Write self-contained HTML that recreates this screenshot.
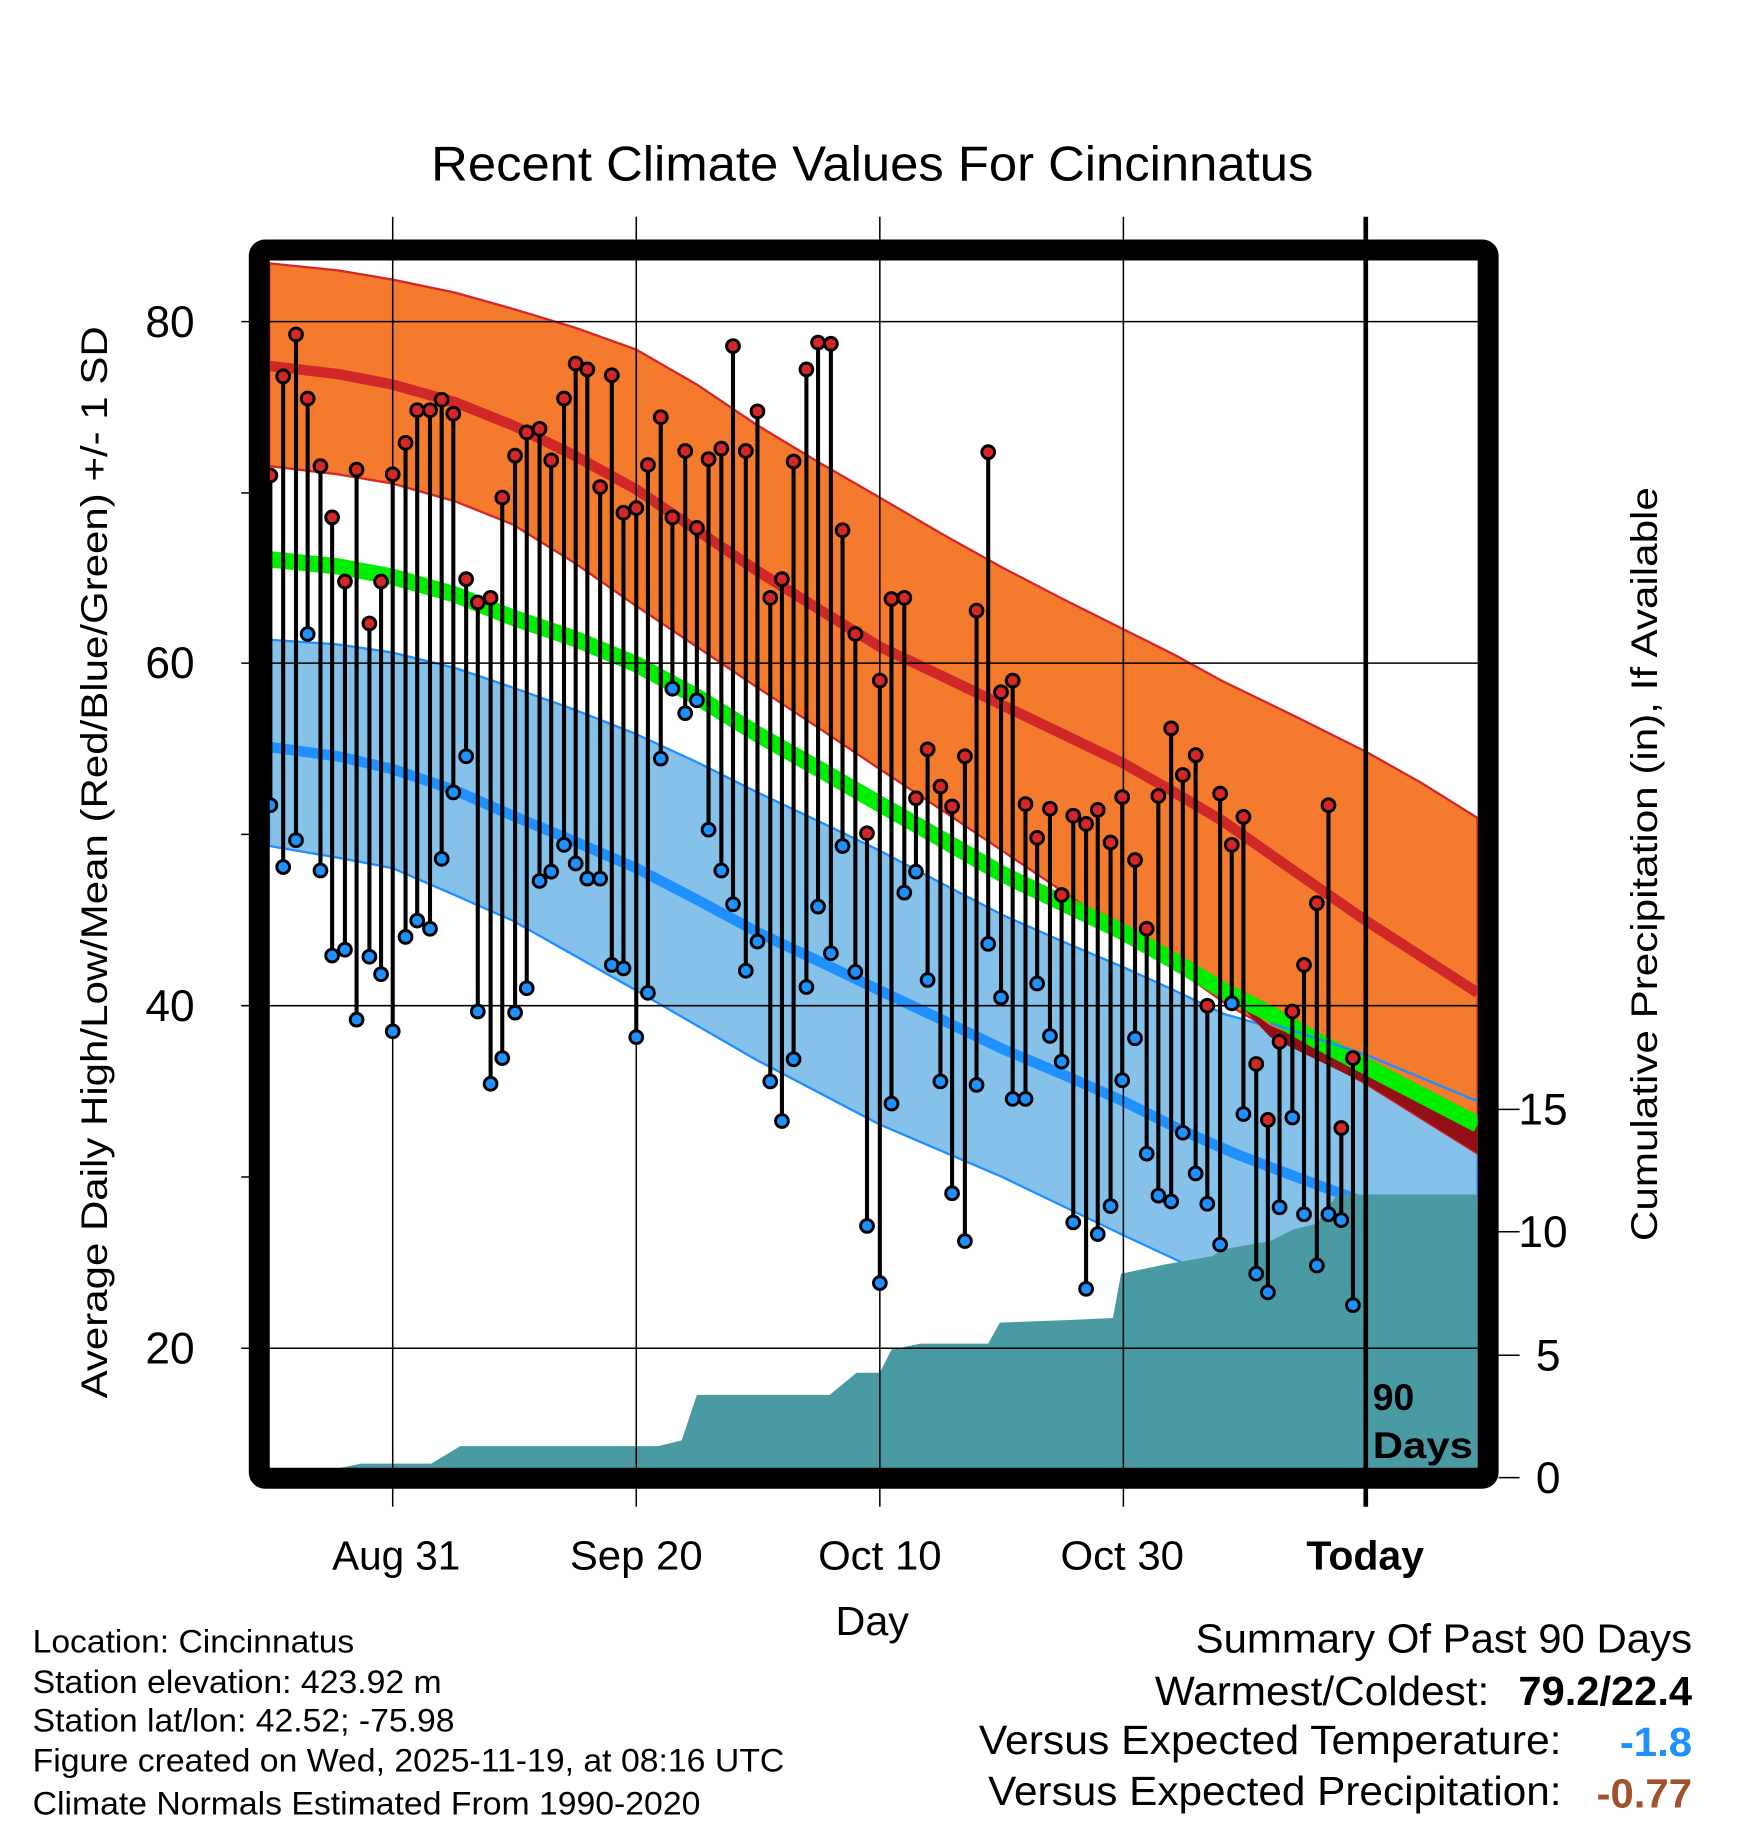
<!DOCTYPE html>
<html><head><meta charset="utf-8"><style>
html,body{margin:0;padding:0;background:#fff}
svg{display:block}
text{font-family:"Liberation Sans",Arial,sans-serif}
</style></head><body>
<svg width="1748" height="1828" viewBox="0 0 1500 1568.65" xmlns="http://www.w3.org/2000/svg">
<defs><clipPath id="c"><rect x="231" y="224" width="1037" height="1036"/></clipPath></defs>
<g clip-path="url(#c)" stroke-linejoin="round">
<path d="M231 549 L290 553 L337 560 L390 573 L440 590 L493 609 L546 630 L598 654 L650 680 L703 705 L755 730 L808 758 L860 785 L912 808 L964 830 L1008 850 L1050 870 L1110 887 L1172 905 L1220 925 L1268 945 L1268 1160 L1172 1125 L1050 1100 L964 1060 L860 1010 L755 965 L650 910 L546 850 L493 820 L440 790 L390 768 L337 745 L290 736 L231 726 Z" fill="#85c1e9" stroke="#1e90ff" stroke-width="2"/>
<path d="M231 226 L290 232 L337 240 L390 251 L440 265 L493 281 L546 300 L598 330 L650 365 L703 397 L755 427 L808 458 L860 487 L912 514 L964 540 L1008 562 L1050 585 L1110 614 L1172 645 L1220 672 L1268 702 L1268 990 L1220 960 L1172 930 L1110 895 L1050 860 L1008 830 L964 800 L912 765 L860 730 L808 695 L755 660 L703 625 L650 590 L598 555 L546 520 L493 483 L440 450 L390 430 L337 415 L290 407 L231 400 Z" fill="#f47a2e" stroke="#d62728" stroke-width="2"/>
<path d="M1060 858 L1090 880 L1172 915 L1268 965 L1268 990 L1172 930 L1090 890 Z" fill="#931116"/>
<polyline points="231,480 290,486 337,495 390,510 440,530 493,548 546,570 598,598 650,630 703,660 755,690 808,720 860,750 912,775 964,800 1008,825 1050,850 1090,870 1130,893 1172,915 1220,940 1268,965" fill="none" stroke="#00ee00" stroke-width="14"/>
<polyline points="1090,878 1172,905 1268,945" fill="none" stroke="#1e90ff" stroke-width="2"/>
<polyline points="231,641 290,649 337,660 390,678 440,700 493,722 546,745 598,772 650,800 703,825 755,850 808,875 860,900 912,922 964,945 1010,968 1060,990 1115,1011 1172,1032" fill="none" stroke="#1e90ff" stroke-width="9"/>
<polyline points="231,314 290,321 337,330 390,345 440,365 493,391 546,420 598,455 650,490 703,523 755,555 808,580 860,605 912,630 964,655 1008,680 1050,705 1110,747 1172,790 1220,821 1268,852" fill="none" stroke="#d02828" stroke-width="9"/>
<path d="M231 1262 L290 1260 L310 1256 L370 1256 L385 1247 L395 1241 L565 1241 L585 1236 L598 1197 L712 1197 L735 1178 L755 1178 L765 1158 L790 1153 L848 1153 L858 1135 L910 1133 L955 1131 L962 1093 L1000 1085 L1040 1078 L1050 1072 L1090 1065 L1110 1055 L1130 1050 L1140 1035 L1148 1025 L1268 1025 L1268 1262 Z" fill="#4a9aa3"/>
</g>
<g stroke="#000" stroke-width="1.3">
<line x1="207" y1="276" x2="1268" y2="276"/><line x1="207" y1="569" x2="1268" y2="569"/>
<line x1="207" y1="863" x2="1268" y2="863"/><line x1="207" y1="1157" x2="1268" y2="1157"/>
<line x1="207" y1="423" x2="218" y2="423"/><line x1="207" y1="716" x2="218" y2="716"/><line x1="207" y1="1010" x2="218" y2="1010"/>
<line x1="337" y1="186" x2="337" y2="1293"/><line x1="546" y1="186" x2="546" y2="1293"/>
<line x1="755" y1="186" x2="755" y2="1293"/><line x1="964" y1="186" x2="964" y2="1293"/>
<line x1="1286" y1="952" x2="1304" y2="952"/><line x1="1286" y1="1057" x2="1304" y2="1057"/>
<line x1="1286" y1="1163" x2="1304" y2="1163"/><line x1="1286" y1="1268" x2="1304" y2="1268"/>
</g>
<path stroke="#000" stroke-width="3.5" fill="none" d="M232 408V691M243 323V744M254 287V721M264 342V544M275 400V747M285 444V820M296 499V815M306 403V875M317 535V821M327 499V836M337 407V885M348 380V804M358 352V790M369 352V797M379 343V737M389 355V680M400 497V649M410 517V868M421 513V930M431 427V908M442 391V869M452 371V848M463 368V756M473 395V748M484 342V725M494 312V741M504 317V754M515 418V754M525 322V828M535 440V831M546 436V890M556 399V852M567 358V651M577 444V591M588 387V612M598 453V601M608 394V712M619 385V747M629 297V776M640 387V833M650 353V808M661 513V928M671 497V962M681 396V909M692 317V847M702 294V778M713 295V818M723 455V726M734 544V834M744 715V1052M755 584V1101M765 514V947M776 513V766M786 685V748M796 643V841M807 675V928M817 692V1024M828 649V1065M838 524V931M848 388V810M859 594V856M869 584V943M880 690V943M890 719V844M901 694V889M911 768V911M921 700V1049M932 707V1106M942 695V1059M953 723V1035M963 684V927M974 738V891M984 797V990M994 683V1026M1005 625V1031M1015 665V972M1026 648V1007M1036 863V1033M1047 681V1068M1057 725V861M1067 701V956M1078 913V1093M1088 961V1109M1098 894V1036M1109 868V959M1119 828V1042M1130 775V1086M1140 691V1042M1151 968V1047M1161 908V1120"/>
<g stroke="#000" stroke-width="2.5" fill="#d62728">
<circle cx="232" cy="408" r="5.5"/><circle cx="243" cy="323" r="5.5"/><circle cx="254" cy="287" r="5.5"/><circle cx="264" cy="342" r="5.5"/><circle cx="275" cy="400" r="5.5"/><circle cx="285" cy="444" r="5.5"/><circle cx="296" cy="499" r="5.5"/><circle cx="306" cy="403" r="5.5"/><circle cx="317" cy="535" r="5.5"/><circle cx="327" cy="499" r="5.5"/><circle cx="337" cy="407" r="5.5"/><circle cx="348" cy="380" r="5.5"/><circle cx="358" cy="352" r="5.5"/><circle cx="369" cy="352" r="5.5"/><circle cx="379" cy="343" r="5.5"/><circle cx="389" cy="355" r="5.5"/><circle cx="400" cy="497" r="5.5"/><circle cx="410" cy="517" r="5.5"/><circle cx="421" cy="513" r="5.5"/><circle cx="431" cy="427" r="5.5"/><circle cx="442" cy="391" r="5.5"/><circle cx="452" cy="371" r="5.5"/><circle cx="463" cy="368" r="5.5"/><circle cx="473" cy="395" r="5.5"/><circle cx="484" cy="342" r="5.5"/><circle cx="494" cy="312" r="5.5"/><circle cx="504" cy="317" r="5.5"/><circle cx="515" cy="418" r="5.5"/><circle cx="525" cy="322" r="5.5"/><circle cx="535" cy="440" r="5.5"/><circle cx="546" cy="436" r="5.5"/><circle cx="556" cy="399" r="5.5"/><circle cx="567" cy="358" r="5.5"/><circle cx="577" cy="444" r="5.5"/><circle cx="588" cy="387" r="5.5"/><circle cx="598" cy="453" r="5.5"/><circle cx="608" cy="394" r="5.5"/><circle cx="619" cy="385" r="5.5"/><circle cx="629" cy="297" r="5.5"/><circle cx="640" cy="387" r="5.5"/><circle cx="650" cy="353" r="5.5"/><circle cx="661" cy="513" r="5.5"/><circle cx="671" cy="497" r="5.5"/><circle cx="681" cy="396" r="5.5"/><circle cx="692" cy="317" r="5.5"/><circle cx="702" cy="294" r="5.5"/><circle cx="713" cy="295" r="5.5"/><circle cx="723" cy="455" r="5.5"/><circle cx="734" cy="544" r="5.5"/><circle cx="744" cy="715" r="5.5"/><circle cx="755" cy="584" r="5.5"/><circle cx="765" cy="514" r="5.5"/><circle cx="776" cy="513" r="5.5"/><circle cx="786" cy="685" r="5.5"/><circle cx="796" cy="643" r="5.5"/><circle cx="807" cy="675" r="5.5"/><circle cx="817" cy="692" r="5.5"/><circle cx="828" cy="649" r="5.5"/><circle cx="838" cy="524" r="5.5"/><circle cx="848" cy="388" r="5.5"/><circle cx="859" cy="594" r="5.5"/><circle cx="869" cy="584" r="5.5"/><circle cx="880" cy="690" r="5.5"/><circle cx="890" cy="719" r="5.5"/><circle cx="901" cy="694" r="5.5"/><circle cx="911" cy="768" r="5.5"/><circle cx="921" cy="700" r="5.5"/><circle cx="932" cy="707" r="5.5"/><circle cx="942" cy="695" r="5.5"/><circle cx="953" cy="723" r="5.5"/><circle cx="963" cy="684" r="5.5"/><circle cx="974" cy="738" r="5.5"/><circle cx="984" cy="797" r="5.5"/><circle cx="994" cy="683" r="5.5"/><circle cx="1005" cy="625" r="5.5"/><circle cx="1015" cy="665" r="5.5"/><circle cx="1026" cy="648" r="5.5"/><circle cx="1036" cy="863" r="5.5"/><circle cx="1047" cy="681" r="5.5"/><circle cx="1057" cy="725" r="5.5"/><circle cx="1067" cy="701" r="5.5"/><circle cx="1078" cy="913" r="5.5"/><circle cx="1088" cy="961" r="5.5"/><circle cx="1098" cy="894" r="5.5"/><circle cx="1109" cy="868" r="5.5"/><circle cx="1119" cy="828" r="5.5"/><circle cx="1130" cy="775" r="5.5"/><circle cx="1140" cy="691" r="5.5"/><circle cx="1151" cy="968" r="5.5"/><circle cx="1161" cy="908" r="5.5"/>
</g>
<g stroke="#000" stroke-width="2.5" fill="#1e90ff">
<circle cx="232" cy="691" r="5.5"/><circle cx="243" cy="744" r="5.5"/><circle cx="254" cy="721" r="5.5"/><circle cx="264" cy="544" r="5.5"/><circle cx="275" cy="747" r="5.5"/><circle cx="285" cy="820" r="5.5"/><circle cx="296" cy="815" r="5.5"/><circle cx="306" cy="875" r="5.5"/><circle cx="317" cy="821" r="5.5"/><circle cx="327" cy="836" r="5.5"/><circle cx="337" cy="885" r="5.5"/><circle cx="348" cy="804" r="5.5"/><circle cx="358" cy="790" r="5.5"/><circle cx="369" cy="797" r="5.5"/><circle cx="379" cy="737" r="5.5"/><circle cx="389" cy="680" r="5.5"/><circle cx="400" cy="649" r="5.5"/><circle cx="410" cy="868" r="5.5"/><circle cx="421" cy="930" r="5.5"/><circle cx="431" cy="908" r="5.5"/><circle cx="442" cy="869" r="5.5"/><circle cx="452" cy="848" r="5.5"/><circle cx="463" cy="756" r="5.5"/><circle cx="473" cy="748" r="5.5"/><circle cx="484" cy="725" r="5.5"/><circle cx="494" cy="741" r="5.5"/><circle cx="504" cy="754" r="5.5"/><circle cx="515" cy="754" r="5.5"/><circle cx="525" cy="828" r="5.5"/><circle cx="535" cy="831" r="5.5"/><circle cx="546" cy="890" r="5.5"/><circle cx="556" cy="852" r="5.5"/><circle cx="567" cy="651" r="5.5"/><circle cx="577" cy="591" r="5.5"/><circle cx="588" cy="612" r="5.5"/><circle cx="598" cy="601" r="5.5"/><circle cx="608" cy="712" r="5.5"/><circle cx="619" cy="747" r="5.5"/><circle cx="629" cy="776" r="5.5"/><circle cx="640" cy="833" r="5.5"/><circle cx="650" cy="808" r="5.5"/><circle cx="661" cy="928" r="5.5"/><circle cx="671" cy="962" r="5.5"/><circle cx="681" cy="909" r="5.5"/><circle cx="692" cy="847" r="5.5"/><circle cx="702" cy="778" r="5.5"/><circle cx="713" cy="818" r="5.5"/><circle cx="723" cy="726" r="5.5"/><circle cx="734" cy="834" r="5.5"/><circle cx="744" cy="1052" r="5.5"/><circle cx="755" cy="1101" r="5.5"/><circle cx="765" cy="947" r="5.5"/><circle cx="776" cy="766" r="5.5"/><circle cx="786" cy="748" r="5.5"/><circle cx="796" cy="841" r="5.5"/><circle cx="807" cy="928" r="5.5"/><circle cx="817" cy="1024" r="5.5"/><circle cx="828" cy="1065" r="5.5"/><circle cx="838" cy="931" r="5.5"/><circle cx="848" cy="810" r="5.5"/><circle cx="859" cy="856" r="5.5"/><circle cx="869" cy="943" r="5.5"/><circle cx="880" cy="943" r="5.5"/><circle cx="890" cy="844" r="5.5"/><circle cx="901" cy="889" r="5.5"/><circle cx="911" cy="911" r="5.5"/><circle cx="921" cy="1049" r="5.5"/><circle cx="932" cy="1106" r="5.5"/><circle cx="942" cy="1059" r="5.5"/><circle cx="953" cy="1035" r="5.5"/><circle cx="963" cy="927" r="5.5"/><circle cx="974" cy="891" r="5.5"/><circle cx="984" cy="990" r="5.5"/><circle cx="994" cy="1026" r="5.5"/><circle cx="1005" cy="1031" r="5.5"/><circle cx="1015" cy="972" r="5.5"/><circle cx="1026" cy="1007" r="5.5"/><circle cx="1036" cy="1033" r="5.5"/><circle cx="1047" cy="1068" r="5.5"/><circle cx="1057" cy="861" r="5.5"/><circle cx="1067" cy="956" r="5.5"/><circle cx="1078" cy="1093" r="5.5"/><circle cx="1088" cy="1109" r="5.5"/><circle cx="1098" cy="1036" r="5.5"/><circle cx="1109" cy="959" r="5.5"/><circle cx="1119" cy="1042" r="5.5"/><circle cx="1130" cy="1086" r="5.5"/><circle cx="1140" cy="1042" r="5.5"/><circle cx="1151" cy="1047" r="5.5"/><circle cx="1161" cy="1120" r="5.5"/>
</g>
<line x1="1172" y1="186" x2="1172" y2="1293" stroke="#000" stroke-width="4"/>
<text x="1178" y="1210" font-size="32" font-weight="bold">90</text>
<text x="1178" y="1251" font-size="32" font-weight="bold" textLength="86" lengthAdjust="spacingAndGlyphs">Days</text>
<rect x="222.5" y="214.5" width="1054.5" height="1054" rx="5" fill="none" stroke="#000" stroke-width="18"/>
<text x="370" y="155" font-size="42" textLength="757" lengthAdjust="spacingAndGlyphs">Recent Climate Values For Cincinnatus</text>
<g font-size="38" text-anchor="end">
<text x="167" y="289">80</text><text x="167" y="582">60</text><text x="167" y="876">40</text><text x="167" y="1170">20</text>
</g>
<g font-size="38">
<text x="1303" y="965">15</text><text x="1303" y="1070">10</text><text x="1318" y="1176">5</text><text x="1318" y="1281">0</text>
</g>
<text transform="translate(92,1200) rotate(-90)" font-size="32" textLength="920" lengthAdjust="spacingAndGlyphs">Average Daily High/Low/Mean (Red/Blue/Green) +/- 1 SD</text>
<text transform="translate(1422,1065) rotate(-90)" font-size="32" textLength="647" lengthAdjust="spacingAndGlyphs">Cumulative Precipitation (in), If Available</text>
<g font-size="35">
<text x="285" y="1347" textLength="110" lengthAdjust="spacingAndGlyphs">Aug 31</text>
<text x="489" y="1347" textLength="114" lengthAdjust="spacingAndGlyphs">Sep 20</text>
<text x="702" y="1347" textLength="106" lengthAdjust="spacingAndGlyphs">Oct 10</text>
<text x="910" y="1347" textLength="106" lengthAdjust="spacingAndGlyphs">Oct 30</text>
<text x="1121" y="1347" font-weight="bold" textLength="101" lengthAdjust="spacingAndGlyphs">Today</text>
<text x="717" y="1403" textLength="63" lengthAdjust="spacingAndGlyphs">Day</text>
</g>
<g font-size="28">
<text x="28" y="1418" textLength="276" lengthAdjust="spacingAndGlyphs">Location: Cincinnatus</text>
<text x="28" y="1453" textLength="351" lengthAdjust="spacingAndGlyphs">Station elevation: 423.92 m</text>
<text x="28" y="1486" textLength="362" lengthAdjust="spacingAndGlyphs">Station lat/lon: 42.52; -75.98</text>
<text x="28" y="1520" textLength="645" lengthAdjust="spacingAndGlyphs">Figure created on Wed, 2025-11-19, at 08:16 UTC</text>
<text x="28" y="1557" textLength="573" lengthAdjust="spacingAndGlyphs">Climate Normals Estimated From 1990-2020</text>
</g>
<g font-size="35">
<text x="1026" y="1418" textLength="426" lengthAdjust="spacingAndGlyphs">Summary Of Past 90 Days</text>
<text x="991" y="1463" textLength="287" lengthAdjust="spacingAndGlyphs">Warmest/Coldest:</text>
<text x="1303" y="1463" font-weight="bold" textLength="149" lengthAdjust="spacingAndGlyphs">79.2/22.4</text>
<text x="840" y="1505" textLength="500" lengthAdjust="spacingAndGlyphs">Versus Expected Temperature:</text>
<text x="1390" y="1507" font-weight="bold" fill="#1e90ff" textLength="62" lengthAdjust="spacingAndGlyphs">-1.8</text>
<text x="848" y="1549" textLength="492" lengthAdjust="spacingAndGlyphs">Versus Expected Precipitation:</text>
<text x="1370" y="1551" font-weight="bold" fill="#a0522d" textLength="82" lengthAdjust="spacingAndGlyphs">-0.77</text>
</g>
</svg>
</body></html>
